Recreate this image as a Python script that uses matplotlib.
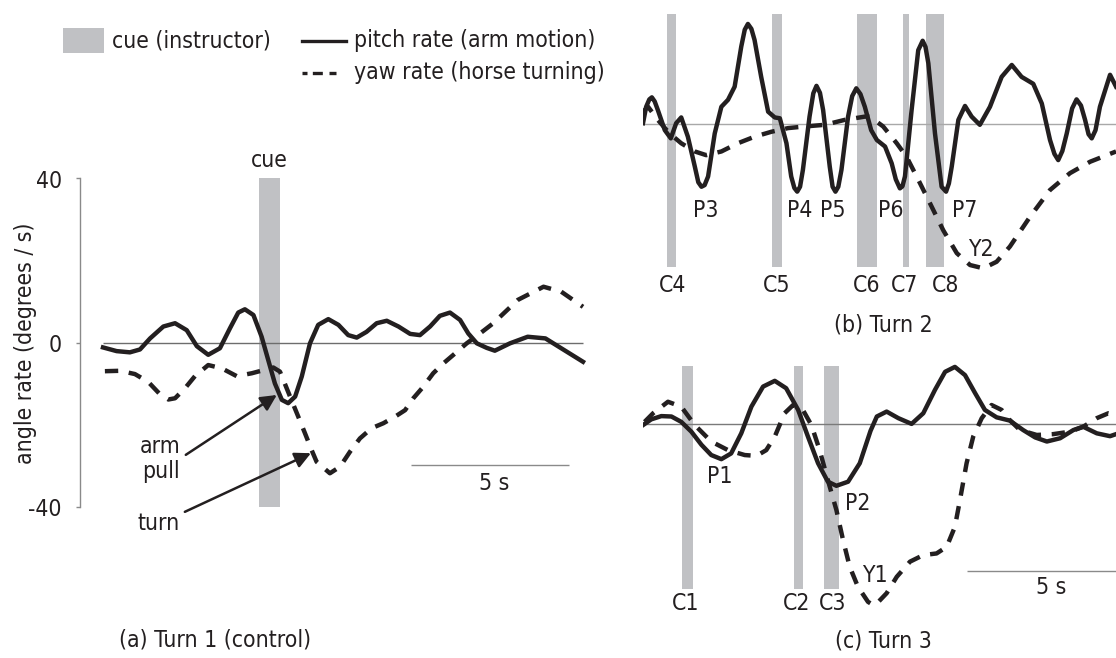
import matplotlib
matplotlib.use("Agg")
import matplotlib.pyplot as plt
from matplotlib.patches import Rectangle

plt.rcParams['font.family'] = ['DejaVu Sans']
plt.rcParams['font.stretch'] = 'condensed'
plt.rcParams['font.size'] = 16.5

INK = '#231f20'
CUE_GREY = '#c0c1c4'

# ---- Turn 1 (control): time in s, angle rate in degrees / s
t1_pitch = [0.00, 0.43, 0.85, 1.17, 1.49, 1.91, 2.28, 2.65, 2.97, 3.33,
            3.70, 4.02, 4.28, 4.49, 4.76, 5.02, 5.23, 5.44, 5.66, 5.86,
            6.08, 6.29, 6.55, 6.81, 7.13, 7.45, 7.76, 8.03, 8.34, 8.66,
            8.98, 9.35, 9.72, 10.03, 10.35, 10.66, 10.98, 11.30, 11.56, 11.83,
            12.14, 12.40, 12.88, 13.44, 14.00, 14.50, 15.19]
pitch1 = [-1.2, -2.1, -2.4, -1.7, 1.0, 3.9, 4.7, 3.0, -0.9, -3.0,
          -1.4, 3.5, 7.3, 8.1, 6.7, 1.4, -4.3, -10.0, -14.0, -14.8,
          -13.2, -8.3, -0.2, 4.3, 5.7, 4.3, 1.8, 1.2, 2.6, 4.7,
          5.3, 3.9, 2.1, 1.8, 3.9, 6.5, 7.3, 5.5, 2.2, -0.2,
          -1.3, -2.0, -0.2, 1.4, 1.0, -1.4, -4.7]
t1_yaw = [0.06, 0.54, 1.01, 1.43, 1.80, 2.07, 2.28, 2.59, 2.91, 3.33,
          3.76, 4.23, 4.71, 5.39, 5.60, 5.92, 6.18, 6.39, 6.60, 6.76,
          7.18, 7.50, 7.82, 8.13, 8.50, 8.87, 9.24, 9.56, 9.82, 10.09,
          10.45, 10.77, 11.09, 11.51, 11.93, 12.35, 13.13, 13.94, 14.50, 15.19]
yaw1 = [-7.0, -6.9, -7.7, -9.6, -12.6, -13.9, -13.6, -11.2, -8.2, -5.5,
        -6.3, -8.2, -7.5, -6.1, -7.1, -13.2, -18.1, -22.1, -26.2, -29.1,
        -31.9, -30.3, -26.6, -23.4, -20.9, -19.7, -18.1, -16.5, -13.6, -11.2,
        -7.5, -5.1, -3.0, -0.2, 2.2, 4.7, 10.4, 13.6, 12.4, 8.7]
cues1 = [(4.94, 5.60)]

# ---- Turn 2
t2_pitch = [0.00, 0.10, 0.20, 0.28, 0.37, 0.47, 0.69, 0.88, 1.05, 1.21,
            1.42, 1.64, 1.75, 1.85, 1.95, 2.06, 2.27, 2.48, 2.69, 2.90,
            3.11, 3.22, 3.32, 3.43, 3.53, 3.74, 3.96, 4.17, 4.33, 4.54,
            4.69, 4.79, 4.88, 4.97, 5.06, 5.27, 5.39, 5.49, 5.60, 5.70,
            5.91, 6.00, 6.09, 6.18, 6.28, 6.49, 6.62, 6.75, 6.88, 7.02,
            7.22, 7.40, 7.66, 7.87, 8.00, 8.13, 8.21, 8.29, 8.50, 8.71,
            8.85, 8.94, 9.03, 9.24, 9.45, 9.59, 9.68, 9.77, 9.98, 10.19,
            10.40, 10.66, 10.98, 11.35, 11.67, 11.98, 12.35, 12.62, 12.88, 13.02,
            13.14, 13.27, 13.41, 13.58, 13.72, 13.86, 13.99, 14.10, 14.20, 14.32,
            14.46, 14.78, 14.97]
pitch2 = [0.2, 4.2, 6.0, 6.5, 5.5, 3.4, -1.5, -3.5, 0.2, 1.6,
          -3.1, -10.4, -14.2, -15.3, -14.9, -12.8, -2.3, 4.2, 5.9, 9.1,
          18.9, 23.0, 24.4, 23.2, 20.5, 11.5, 3.0, 1.6, 1.4, -4.7,
          -12.8, -15.6, -16.5, -15.3, -11.2, 1.8, 7.5, 9.3, 7.6, 3.4,
          -10.4, -15.3, -16.5, -15.3, -11.2, 1.8, 6.8, 8.7, 7.3, 4.2,
          -1.5, -3.9, -5.5, -9.6, -13.5, -15.7, -15.2, -12.8, 3.4, 18.0,
          20.3, 18.8, 14.8, -2.3, -15.3, -16.5, -14.5, -10.4, 1.0, 4.4,
          1.8, -0.2, 4.2, 11.5, 14.4, 11.5, 9.8, 5.0, -3.9, -7.3,
          -8.8, -6.6, -2.3, 3.8, 6.0, 4.5, 1.0, -2.5, -3.5, -1.5,
          4.2, 12.0, 9.1]
t2_yaw = [0.00, 0.16, 0.47, 0.84, 1.21, 1.64, 2.00, 2.48, 3.00, 3.53,
          4.06, 4.59, 5.12, 5.75, 6.38, 7.02, 7.18, 7.60, 8.03, 8.34,
          8.66, 9.08, 9.50, 9.93, 10.35, 10.77, 11.19, 11.61, 12.25, 12.88,
          13.51, 14.15, 14.97]
yaw2 = [3.0, 4.2, 1.0, -2.3, -4.7, -6.7, -7.6, -6.7, -4.7, -3.1,
        -1.9, -1.0, -0.6, -0.2, 1.0, 1.8, 1.8, -0.6, -4.7, -8.0,
        -12.8, -19.3, -25.9, -31.5, -34.4, -35.2, -33.6, -29.9, -22.6, -16.1,
        -12.0, -9.2, -6.7]
cues2 = [(0.76, 1.04), (4.08, 4.40), (6.77, 7.41), (8.23, 8.42), (8.96, 9.53)]

# ---- Turn 3
t3_pitch = [0.00, 0.26, 0.58, 0.90, 1.21, 1.53, 1.85, 2.16, 2.48, 2.79,
            3.11, 3.43, 3.80, 4.17, 4.53, 4.91, 5.22, 5.54, 5.85, 6.12,
            6.49, 6.86, 7.20, 7.40, 7.71, 8.08, 8.50, 8.87, 9.24, 9.56,
            9.87, 10.19, 10.51, 10.82, 11.19, 11.61, 12.03, 12.41, 12.78, 13.20,
            13.62, 13.93, 14.36, 14.78, 14.97]
pitch3 = [-0.2, 1.2, 2.0, 1.9, 0.6, -1.8, -5.0, -7.5, -8.5, -7.1,
          -2.2, 4.3, 9.2, 10.6, 8.8, 3.5, -3.0, -9.5, -14.0, -15.0,
          -14.0, -9.5, -1.6, 1.9, 3.1, 1.5, 0.1, 2.7, 8.4, 12.8,
          14.0, 12.0, 7.6, 3.5, 1.7, 0.9, -1.4, -3.2, -4.2, -3.4,
          -1.4, -0.6, -2.2, -2.9, -2.4]
t3_yaw = [0.05, 0.32, 0.79, 1.21, 1.64, 2.16, 2.69, 3.22, 3.59, 3.90,
          4.17, 4.48, 4.75, 5.06, 5.33, 5.59, 5.85, 6.12, 6.33, 6.54,
          6.80, 7.12, 7.29, 7.40, 7.71, 8.03, 8.45, 8.87, 9.29, 9.61,
          9.87, 10.03, 10.24, 10.45, 10.72, 11.03, 11.35, 11.61, 11.93, 12.46,
          12.98, 13.51, 13.93, 14.36, 14.73, 14.97]
yaw3 = [0.6, 2.7, 5.5, 4.3, -0.2, -4.2, -6.3, -7.5, -7.7, -6.3,
        -3.0, 2.7, 4.7, 3.5, -0.2, -6.3, -13.6, -20.9, -28.2, -34.7,
        -39.6, -43.3, -44.1, -43.7, -41.2, -37.2, -33.5, -31.9, -31.5, -29.9,
        -25.0, -18.5, -9.5, -3.0, 1.5, 4.7, 3.5, 1.0, -1.4, -2.6,
        -2.4, -1.8, -0.6, 1.5, 2.7, 2.3]
cues3 = [(1.23, 1.58), (4.78, 5.06), (5.73, 6.20)]

# ---- figure layout in pixels
W, H = 1116, 658
PX_S = 31.6   # pixels per second
PX_U = 4.1    # pixels per degree/s

fig = plt.figure(figsize=(W / 100, H / 100), dpi=100)

ov = fig.add_axes([0, 0, 1, 1])
ov.set_xlim(0, W)
ov.set_ylim(H, 0)
ov.axis('off')


def make_axes(x0, x1, y0, y1, t_left, zero_y):
    ax = fig.add_axes([x0 / W, 1 - y1 / H, (x1 - x0) / W, (y1 - y0) / H])
    ax.set_xlim(t_left, t_left + (x1 - x0) / PX_S)
    ax.set_ylim((zero_y - y1) / PX_U, (zero_y - y0) / PX_U)
    ax.patch.set_alpha(0)
    for s in ax.spines.values():
        s.set_visible(False)
    ax.set_xticks([])
    ax.set_yticks([])
    return ax


def draw_turn(ax, cues, lo, hi, tp, p, ty, y, zero_col, t_end):
    for a, b in cues:
        ax.add_patch(Rectangle((a, lo), b - a, hi - lo, facecolor=CUE_GREY,
                               lw=0, zorder=1))
    ax.hlines(0, tp[0], t_end, color=zero_col, lw=1, zorder=2)
    ax.plot(ty, y, color=INK, lw=3.2, ls=(0, (3.0, 2.4)),
            dash_capstyle='butt', zorder=3)
    ax.plot(tp, p, color=INK, lw=3.2, solid_joinstyle='round', zorder=4)


# ---- (a) Turn 1
axA = make_axes(80, 600, 178.5, 506.5, (80 - 103) / PX_S, 342.5)
draw_turn(axA, cues1, -40, 40, t1_pitch, pitch1, t1_yaw, yaw1, '#6d6d6d', t1_pitch[-1])
axA.spines['left'].set_visible(True)
axA.spines['left'].set_bounds(-40, 40)
axA.spines['left'].set_color('#8a8a8a')
axA.spines['left'].set_linewidth(1)
axA.set_yticks([-40, 0, 40])
axA.set_yticklabels(['-40', '0', '40'])
axA.tick_params(axis='y', length=3, width=1, color='#8a8a8a', pad=10,
                labelsize=16.5, labelcolor=INK)
fig.text(26 / W, 1 - 343 / H, 'angle rate (degrees / s)', rotation=90,
         ha='center', va='center', color=INK)

c0, c1 = cues1[0]
axA.text((c0 + c1) / 2, 44.5, 'cue', ha='center', va='center', color=INK, clip_on=False)
axA.text(2.44, -27.0, 'arm', ha='right', va='baseline', color=INK)
axA.text(2.44, -33.0, 'pull', ha='right', va='baseline', color=INK)
axA.text(2.44, -45.7, 'turn', ha='right', va='baseline', color=INK, clip_on=False)
arrow = dict(arrowstyle='-|>', lw=1.8, color=INK, mutation_scale=24,
             shrinkA=0, shrinkB=0)
axA.annotate('', xy=(5.50, -12.8), xytext=(2.62, -27.4), arrowprops=arrow)
axA.annotate('', xy=(6.58, -27.0), xytext=(2.59, -41.3), arrowprops=arrow,
             annotation_clip=False)
axA.hlines(-29.9, 9.75, 9.75 + 5, color='#8a8a8a', lw=1)
axA.text(12.37, -34.4, '5 s', ha='center', va='center', color=INK)

# ---- (b) Turn 2
axB = make_axes(643, 1116, 0, 300, 0, 124)
draw_turn(axB, cues2, -34.9, 26.8, t2_pitch, pitch2, t2_yaw, yaw2, '#a8a8a8', 15.5)
for name, (x, y) in zip(['P3', 'P4', 'P5', 'P6', 'P7', 'Y2'],
                        [(1.99, -21.0), (4.97, -21.0), (6.01, -21.0),
                         (7.85, -21.0), (10.19, -21.0), (10.70, -30.5)]):
    axB.text(x, y, name, ha='center', va='center', color=INK)
for name, (x, y) in zip(['C4', 'C5', 'C6', 'C7', 'C8'],
                        [(0.95, -39.3), (4.24, -39.3), (7.09, -39.3),
                         (8.29, -39.3), (9.56, -39.3)]):
    axB.text(x, y, name, ha='center', va='center', color=INK)

# ---- (c) Turn 3
axC = make_axes(643, 1116, 340, 658, 0, 424.3)
draw_turn(axC, cues3, -40.2, 14.2, t3_pitch, pitch3, t3_yaw, yaw3, '#7a7a7a', 15.5)
for name, (x, y) in zip(['P1', 'P2', 'Y1', 'C1', 'C2', 'C3'],
                        [(2.43, -12.8), (6.80, -19.2), (7.34, -36.8),
                         (1.36, -43.8), (4.87, -43.8), (6.01, -43.8)]):
    axC.text(x, y, name, ha='center', va='center', color=INK)
axC.hlines(-35.7, 10.25, 10.25 + 5, color='#8a8a8a', lw=1)
axC.text(12.91, -39.9, '5 s', ha='center', va='center', color=INK)

# ---- panel titles
fig.text(215 / W, 1 - 640 / H, '(a) Turn 1 (control)', ha='center', va='center', color=INK)
fig.text(883 / W, 1 - 325 / H, '(b) Turn 2', ha='center', va='center', color=INK)
fig.text(883 / W, 1 - 641 / H, '(c) Turn 3', ha='center', va='center', color=INK)

# ---- legend
ov.add_patch(Rectangle((62.7, 28.3), 41.3, 24.4, facecolor=CUE_GREY, lw=0))
ov.text(112, 40.5, 'cue (instructor)', va='center', color=INK)
ov.plot([302, 346], [40.5, 40.5], color=INK, lw=2.4)
ov.text(354, 40.5, 'pitch rate (arm motion)', va='center', color=INK)
ov.plot([302, 346], [73, 73], color=INK, lw=2.4, ls=(0, (1.5, 1.6, 3, 2, 2.1, 5)),
        dash_capstyle='butt')
ov.text(354, 73, 'yaw rate (horse turning)', va='center', color=INK)

fig.savefig('out.png', dpi=100)
